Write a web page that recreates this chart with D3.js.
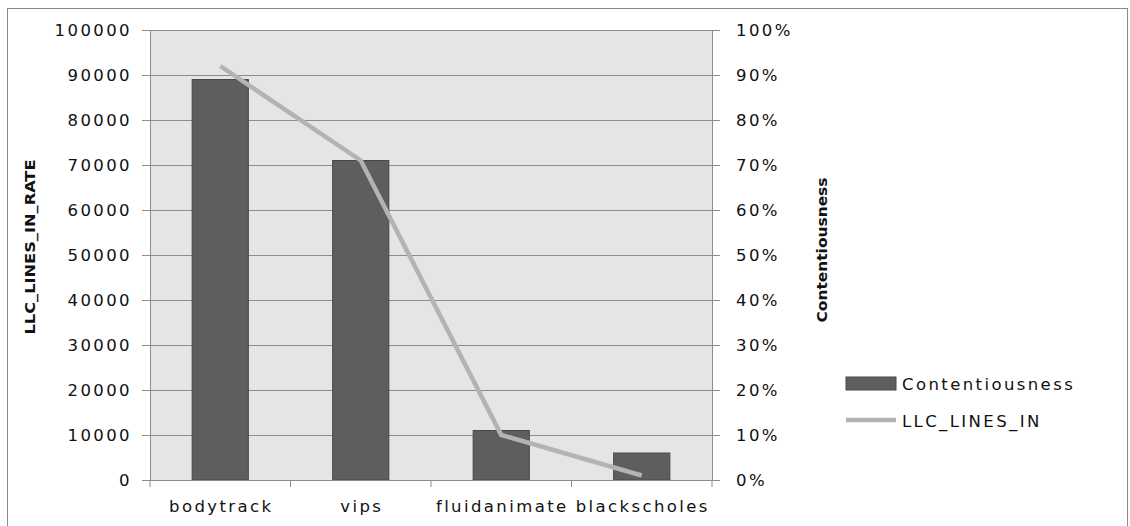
<!DOCTYPE html>
<html lang="en">
  <head>
    <title>Contentiousness vs LLC_LINES_IN</title>
    <script src="https://d3js.org/d3.v7.min.js"></script>
    <style>
      body { margin: 0; background: #fff; }
      .tick text, .lbl
      {
        font-family: "DejaVu Sans", Verdana, sans-serif;
        font-size: 16.5px;
        letter-spacing: 2.4px;
        fill: #111;
      }
      .ttl
      {
        font-family: "DejaVu Sans Condensed", "Liberation Sans Narrow", sans-serif;
        font-weight: bold;
        font-size: 14px;
        fill: #111;
      }
    </style>
  </head>
  <body>
    <svg width="1130" height="526"></svg>

    <script>
      // values
      var categories = ["bodytrack", "vips", "fluidanimate", "blackscholes"];
      var barValues = [89000, 71000, 11000, 6000];      // Contentiousness (left axis)
      var lineValues = [0.92, 0.71, 0.10, 0.01];        // LLC_LINES_IN (right axis)
      var leftTicks = [0, 10000, 20000, 30000, 40000, 50000, 60000, 70000, 80000, 90000, 100000];
      var rightTicks = [0, 0.1, 0.2, 0.3, 0.4, 0.5, 0.6, 0.7, 0.8, 0.9, 1];
      var legendLabels = ["Contentiousness", "LLC_LINES_IN"];

      var svg = d3.select("svg");
      var pLeft = 150, pRight = 712, pTop = 30, pBottom = 480;

      svg.append("rect").attr("x", 7.5).attr("y", 8.5).attr("width", 1120).attr("height", 530)
         .attr("fill", "#fff").attr("stroke", "#8a8a8a");

      var x = d3.scaleBand().domain(categories).range([pLeft, pRight]).paddingInner(0.6).paddingOuter(0.3);
      var band = d3.scaleBand().domain(categories).range([pLeft, pRight]);
      var y = d3.scaleLinear().domain([0, 100000]).range([pBottom, pTop]);
      var y2 = d3.scaleLinear().domain([0, 1]).range([pBottom, pTop]);

      svg.append("rect").attr("x", pLeft).attr("y", pTop).attr("width", pRight - pLeft).attr("height", pBottom - pTop)
         .attr("fill", "#e5e5e5");

      // grid
      svg.append("g").attr("transform", "translate(" + pLeft + ",0)")
         .call(d3.axisLeft(y).tickValues(leftTicks).tickSize(-(pRight - pLeft)).tickFormat(""))
         .call(function(g){ g.select(".domain").remove(); g.selectAll("line").attr("stroke", "#8c8c8c"); });

      // bars
      svg.append("g").selectAll("rect").data(barValues).enter().append("rect")
         .attr("x", function(d, i){ return x(categories[i]); })
         .attr("y", function(d){ return y(d); })
         .attr("width", x.bandwidth())
         .attr("height", function(d){ return pBottom - y(d); })
         .attr("fill", "#5e5e5e").attr("stroke", "#484848");

      // line
      var line = d3.line()
                   .x(function(d, i){ return band(categories[i]) + band.bandwidth() / 2; })
                   .y(function(d){ return y2(d); });
      svg.append("path").datum(lineValues).attr("d", line)
         .attr("fill", "none").attr("stroke", "#b3b3b3").attr("stroke-width", 4.5);

      function styleAxis(g)
      {
        g.selectAll(".domain, line").attr("stroke", "#8c8c8c");
      }

      // left axis
      svg.append("g").attr("transform", "translate(" + pLeft + ",0)")
         .call(d3.axisLeft(y).tickValues(leftTicks).tickSize(8).tickPadding(10).tickFormat(d3.format("d")))
         .call(styleAxis)
         .selectAll("text").attr("dy", "0.35em");

      // right axis
      svg.append("g").attr("transform", "translate(" + pRight + ",0)")
         .call(d3.axisRight(y2).tickValues(rightTicks).tickSize(8).tickPadding(16).tickFormat(d3.format(".0%")))
         .call(styleAxis)
         .selectAll("text").attr("dy", "0.35em");

      // bottom axis: ticks on band edges, labels centred
      var gx = svg.append("g").attr("transform", "translate(0," + pBottom + ")")
                  .call(d3.axisBottom(band).tickSize(0).tickPadding(20))
                  .call(styleAxis);
      gx.selectAll(".tick text").attr("dy", "0.71em").attr("dx", "1px");
      gx.selectAll(".edge").data(d3.range(categories.length + 1)).enter().append("line")
        .attr("class", "edge")
        .attr("x1", function(i){ return pLeft + i * band.step(); })
        .attr("x2", function(i){ return pLeft + i * band.step(); })
        .attr("y1", 0).attr("y2", 7).attr("stroke", "#8c8c8c");

      // axis titles
      svg.append("text").attr("class", "ttl")
         .attr("transform", "translate(35,247) rotate(-90)")
         .attr("text-anchor", "middle")
         .attr("textLength", 175).attr("lengthAdjust", "spacingAndGlyphs")
         .text("LLC_LINES_IN_RATE");
      svg.append("text").attr("class", "ttl")
         .attr("transform", "translate(827,250) rotate(-90)")
         .attr("text-anchor", "middle")
         .attr("textLength", 145).attr("lengthAdjust", "spacingAndGlyphs")
         .text("Contentiousness");

      // legend
      var lg = svg.append("g").attr("transform", "translate(846,0)");
      lg.append("rect").attr("x", 0).attr("y", 377).attr("width", 50).attr("height", 13)
        .attr("fill", "#5e5e5e").attr("stroke", "#484848");
      lg.append("line").attr("x1", 0).attr("x2", 50).attr("y1", 420).attr("y2", 420)
        .attr("stroke", "#b3b3b3").attr("stroke-width", 4.5);
      lg.selectAll("text.lbl").data(legendLabels).enter().append("text").attr("class", "lbl")
        .attr("x", 56)
        .attr("y", function(d, i){ return 384 + i * 37; })
        .attr("dy", "0.35em")
        .text(function(d){ return d; });
    </script>
  </body>
</html>
